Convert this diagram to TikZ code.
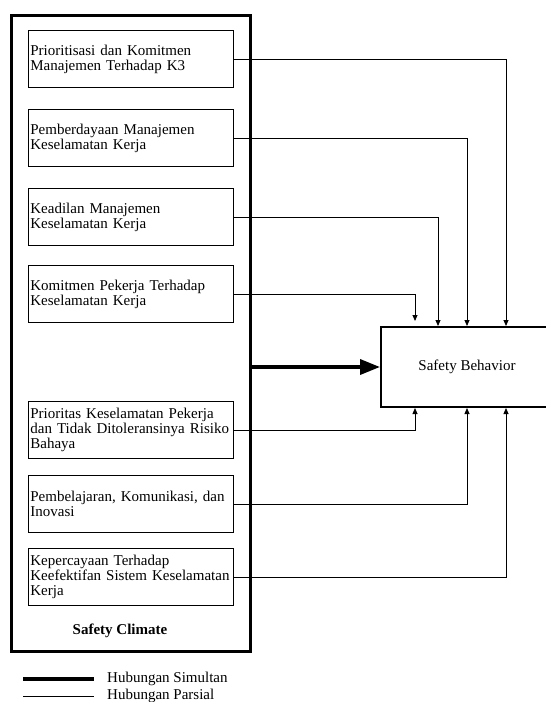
\documentclass[tikz,border=0pt]{standalone}
\usepackage{fontspec}
\setmainfont{Liberation Serif}
\usetikzlibrary{arrows.meta}
\tikzset{
  factor/.style = {draw, line width=.8pt, minimum width=205pt, minimum height=57pt,
    text width=201pt, inner sep=2pt, align=left, anchor=north west,
    font=\fontsize{15}{15}\selectfont},
  partial/.style = {line width=.8pt, -{Triangle[length=6pt,width=5pt]}},
}
\begin{document}
\begin{tikzpicture}[x=1pt, y=-1pt]
  \useasboundingbox (0,0) rectangle (546,702);
  % safety climate
  \node [draw, line width=2.7pt, minimum width=239pt, minimum height=636pt,
    anchor=north west, inner sep=0pt] (climate) at (10,14) {};
  \foreach \n/\y/\t in {
      1/30/{Prioritisasi dan Komitmen\\Manajemen Terhadap K3},
      2/109/{Pemberdayaan Manajemen\\Keselamatan Kerja},
      3/188/{Keadilan Manajemen\\Keselamatan Kerja},
      4/265/{Komitmen Pekerja Terhadap\\Keselamatan Kerja},
      5/401/{Prioritas Keselamatan Pekerja\\dan Tidak Ditoleransinya Risiko\\Bahaya},
      6/475/{Pembelajaran, Komunikasi, dan\\Inovasi},
      7/548/{Kepercayaan Terhadap\\Keefektifan Sistem Keselamatan\\Kerja}}
    \node [factor] (f\n) at (28,\y) {\t};
  \node [font=\fontsize{15}{15}\selectfont\bfseries] (climatelabel) at (120,631) {Safety Climate};
  % safety behavior
  \node [draw, line width=2pt, minimum width=172pt, minimum height=80pt,
    font=\fontsize{15}{15}\selectfont] (behavior) at (467,367) {Safety Behavior};
  \foreach \n/\s/\dx in {1/north/39, 2/north/0, 3/north/-29, 5/south/-52, 6/south/0, 7/south/39}
    \draw [partial] (f\n.east) -| ([xshift=\dx pt]behavior.\s);
  \draw [partial, shorten >=5pt] (f4.east) -| ([xshift=-52pt]behavior.north);
  \draw [line width=3.5pt, -{Triangle[length=20pt,width=15pt]}]
    (climate.east |- behavior.west) -- (behavior.west);
  % legend
  \node [anchor=west, inner sep=0pt, font=\fontsize{15}{15}\selectfont] (simultan) at (107,679) {Hubungan Simultan};
  \node [anchor=west, inner sep=0pt, font=\fontsize{15}{15}\selectfont] (parsial) at (107,696) {Hubungan Parsial};
  \coordinate (simA) at (23,679);
  \coordinate (parA) at (23,696);
  \draw [line width=3.5pt] (simA) -- ([xshift=-13pt]simultan.west);
  \draw [line width=.8pt] (parA) -- ([xshift=-13pt]parsial.west);
\end{tikzpicture}
\end{document}
